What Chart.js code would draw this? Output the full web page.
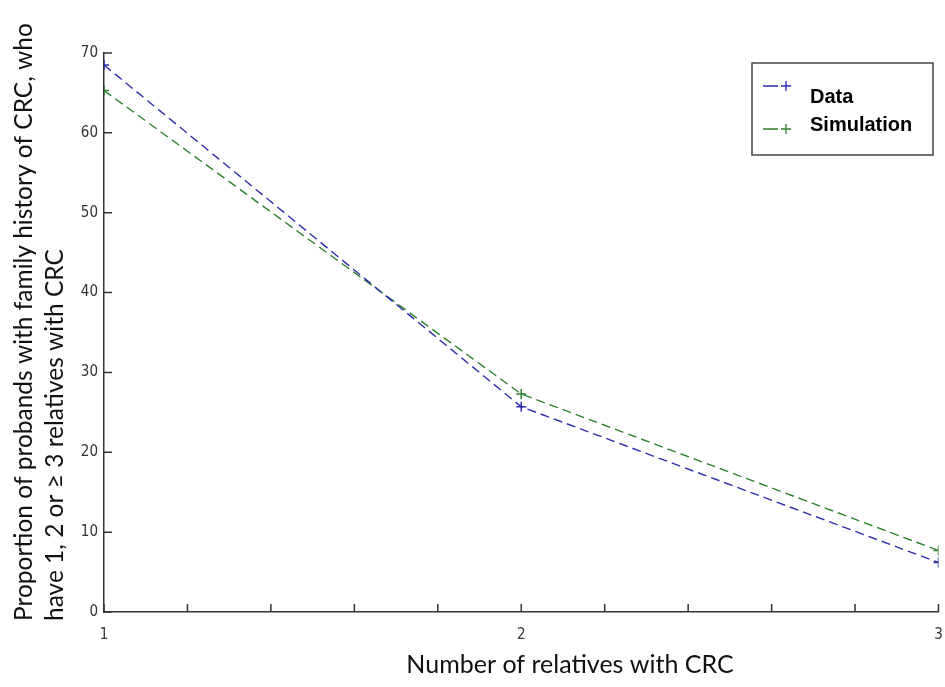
<!DOCTYPE html>
<html>
<head>
<meta charset="utf-8">
<script src="https://cdn.jsdelivr.net/npm/chart.js@4.4.1/dist/chart.umd.min.js"></script>
<style>
  body { margin: 0; background: #fff; }
  #wrap { width: 945px; height: 687px; position: relative; }
</style>
</head>
<body>
<div id="wrap"><canvas id="chart"></canvas></div>
<script>
const relatives = [1, 2, 3];
const dataValues = [68.5, 25.7, 6.2];
const simValues = [65.3, 27.3, 7.7];
const seriesNames = ['Data', 'Simulation'];
const yTitleLines = [
  'Proportion of probands with family history of CRC, who',
  'have 1, 2 or \u2265 3 relatives with CRC'
];
const xTitle = 'Number of relatives with CRC';

const blue = 'rgb(45, 45, 175)';
const green = 'rgb(45, 130, 45)';
const axisColor = '#333';
const tickFont = '"Liberation Sans Narrow", "DejaVu Sans Condensed", sans-serif';
const titleFont = 'Lato, "Open Sans", sans-serif';

function points(values) {
  return relatives.map((x, i) => ({x: x, y: values[i]}));
}

// inward tick marks, like the original plot
const innerTicks = {
  id: 'innerTicks',
  afterDraw(chart) {
    const ctx = chart.ctx;
    const area = chart.chartArea;
    const xs = chart.scales.x, ys = chart.scales.y;
    ctx.save();
    ctx.strokeStyle = axisColor;
    ctx.lineWidth = 1.5;
    ctx.beginPath();
    xs.ticks.forEach(t => {
      const px = xs.getPixelForValue(t.value);
      ctx.moveTo(px, area.bottom);
      ctx.lineTo(px, area.bottom - 8);
    });
    ys.ticks.forEach(t => {
      const py = ys.getPixelForValue(t.value);
      ctx.moveTo(area.left, py);
      ctx.lineTo(area.left + 8, py);
    });
    ctx.stroke();
    ctx.restore();
  }
};

// axis titles drawn by hand so the long y title can run off the top
const axisTitles = {
  id: 'axisTitles',
  afterDraw(chart) {
    const ctx = chart.ctx;
    ctx.save();
    ctx.fillStyle = '#111';
    ctx.textBaseline = 'middle';
    ctx.textAlign = 'center';
    ctx.font = '25px ' + titleFont;
    ctx.fillText(xTitle, 570, 665);
    ctx.font = '24.5px ' + titleFont;
    ctx.translate(0, 621);
    ctx.rotate(-Math.PI / 2);
    ctx.textAlign = 'left';
    yTitleLines.forEach((line, i) => {
      ctx.fillText(line, 0, 24 + i * 31);
    });
    ctx.restore();
  }
};

// boxed legend in the top right corner
const boxLegend = {
  id: 'boxLegend',
  afterDraw(chart) {
    const ctx = chart.ctx;
    ctx.save();
    ctx.strokeStyle = '#444';
    ctx.lineWidth = 1.5;
    ctx.strokeRect(752, 63, 181, 92);
    const sampleY = [86, 129];
    const textY = [97, 125];
    chart.data.datasets.forEach((ds, i) => {
      ctx.strokeStyle = ds.borderColor;
      ctx.lineWidth = 1.3;
      ctx.beginPath();
      ctx.moveTo(763, sampleY[i]);
      ctx.lineTo(778, sampleY[i]);
      ctx.moveTo(781, sampleY[i]);
      ctx.lineTo(791, sampleY[i]);
      ctx.moveTo(786, sampleY[i] - 5);
      ctx.lineTo(786, sampleY[i] + 5);
      ctx.stroke();
      ctx.fillStyle = '#000';
      ctx.font = 'bold 20px "Liberation Sans", Arial, sans-serif';
      ctx.textBaseline = 'middle';
      ctx.fillText(ds.label, 810, textY[i]);
    });
    ctx.restore();
  }
};

const config = {
  type: 'line',
  data: {
    datasets: [{
      label: seriesNames[0],
      data: points(dataValues),
      borderColor: blue,
      backgroundColor: blue,
      borderWidth: 1.4,
      borderDash: [9, 5],
      pointStyle: 'cross',
      pointRadius: 5,
      pointBorderWidth: 1.5,
      fill: false
    }, {
      label: seriesNames[1],
      data: points(simValues),
      borderColor: green,
      backgroundColor: green,
      borderWidth: 1.4,
      borderDash: [9, 5],
      pointStyle: 'cross',
      pointRadius: 5,
      pointBorderWidth: 1.5,
      fill: false
    }]
  },
  options: {
    responsive: true,
    maintainAspectRatio: false,
    animation: false,
    layout: { padding: { top: 53, right: 6, left: 0, bottom: 0 } },
    plugins: {
      legend: { display: false },
      tooltip: { enabled: false }
    },
    scales: {
      x: {
        type: 'linear',
        min: 1,
        max: 3,
        grid: { display: false },
        border: { display: true, color: axisColor, width: 1.5 },
        ticks: {
          stepSize: 0.2,
          autoSkip: false,
          maxRotation: 0,
          padding: 6,
          color: '#333',
          font: { family: tickFont, size: 15 },
          callback: v => (Math.abs(v - Math.round(v)) < 1e-6 ? Math.round(v) : '')
        },
        afterFit: s => { s.height = 75; s.paddingRight = 0; s.paddingLeft = 0; }
      },
      y: {
        min: 0,
        max: 70,
        grid: { display: false },
        border: { display: true, color: axisColor, width: 1.5 },
        ticks: {
          stepSize: 10,
          padding: -2,
          color: '#333',
          font: { family: tickFont, size: 15 }
        },
        afterFit: s => { s.width = 104; }
      }
    }
  },
  plugins: [innerTicks, axisTitles, boxLegend]
};

new Chart(document.getElementById('chart'), config);
</script>
</body>
</html>
